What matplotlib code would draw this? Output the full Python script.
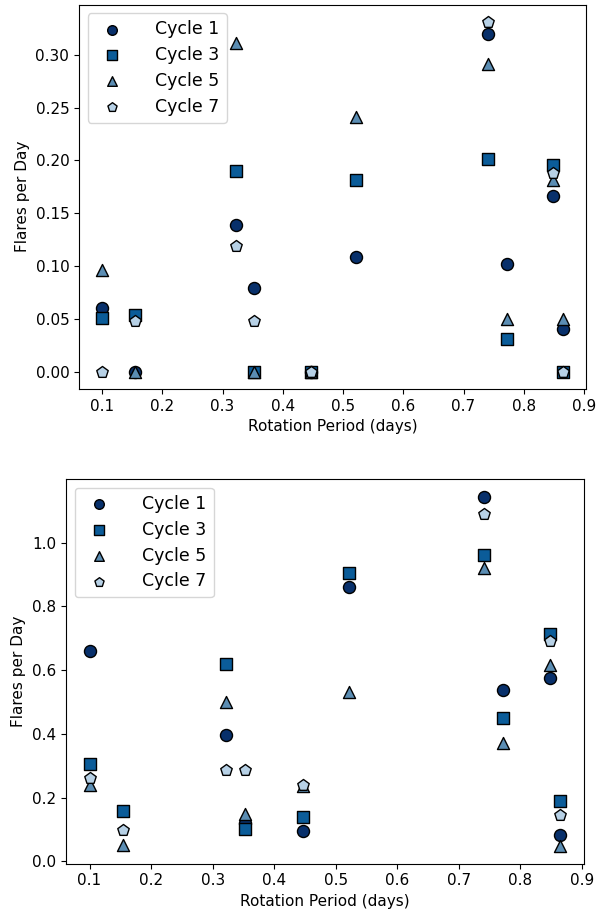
import numpy as np
import matplotlib
matplotlib.use("Agg")
import matplotlib.pyplot as plt

# Rotation periods of the sample (days)
periods = [0.100, 0.154, 0.322, 0.353, 0.447, 0.522, 0.740, 0.772, 0.848, 0.865]

cycles = ["Cycle 1", "Cycle 3", "Cycle 5", "Cycle 7"]

# Flare rates, upper panel (flares per day); NaN = no measurement
top_c1 = [0.060, 0.000, 0.139, 0.079, 0.000, 0.108, 0.320, 0.102, 0.166, 0.040]
top_c3 = [0.051, 0.054, 0.190, 0.000, 0.000, 0.181, 0.201, 0.031, 0.196, 0.000]
top_c5 = [0.096, 0.000, 0.311, 0.000, 0.000, 0.241, 0.291, 0.050, 0.181, 0.050]
top_c7 = [0.000, 0.048, 0.119, 0.048, 0.000, np.nan, 0.331, np.nan, 0.188, 0.000]

# Flare rates, lower panel (flares per day)
bot_c1 = [0.659, np.nan, 0.397, 0.120, 0.094, 0.862, 1.144, 0.538, 0.575, 0.081]
bot_c3 = [0.306, 0.159, 0.619, 0.100, 0.138, 0.906, 0.962, 0.450, 0.713, 0.188]
bot_c5 = [0.238, 0.050, 0.500, 0.147, 0.235, 0.531, 0.922, 0.372, 0.616, 0.047]
bot_c7 = [0.262, 0.097, 0.287, 0.287, 0.238, np.nan, 1.090, np.nan, 0.690, 0.144]

markers = ["o", "s", "^", "p"]
colors = ["#08306b", "#0b5c99", "#5b8db3", "#b7d1e6"]

fig, axes = plt.subplots(2, 1, figsize=(5.99, 9.15), dpi=100)
panels = [(axes[0], [top_c1, top_c3, top_c5, top_c7]),
          (axes[1], [bot_c1, bot_c3, bot_c5, bot_c7])]

for ax, series in panels:
    for label, vals, m, c in zip(cycles, series, markers, colors):
        ax.scatter(periods, vals, marker=m, s=75, color=c,
                   edgecolors="black", linewidths=1.0, label=label, zorder=3)
    ax.set_xlabel("Rotation Period (days)", fontsize=11)
    ax.set_ylabel("Flares per Day", fontsize=11)
    ax.tick_params(labelsize=11)
    ax.legend(loc="upper left", fontsize=12.5, markerscale=0.8,
              handletextpad=1.5, labelspacing=0.45)

axes[0].set_yticks([0.0, 0.05, 0.10, 0.15, 0.20, 0.25, 0.30])
axes[0].set_yticklabels(["0.00", "0.05", "0.10", "0.15", "0.20", "0.25", "0.30"])
axes[1].set_yticks([0.0, 0.2, 0.4, 0.6, 0.8, 1.0])
axes[1].set_xticks([0.1, 0.2, 0.3, 0.4, 0.5, 0.6, 0.7, 0.8, 0.9])
axes[0].set_xticks([0.1, 0.2, 0.3, 0.4, 0.5, 0.6, 0.7, 0.8, 0.9])

fig.subplots_adjust(left=0.11, right=0.978, top=0.995, bottom=0.056, hspace=0.235)
pos0 = axes[0].get_position()
axes[0].set_position([79 / 599, pos0.y0, (586 - 79) / 599, pos0.height])
pos1 = axes[1].get_position()
axes[1].set_position([66 / 599, pos1.y0, (584 - 66) / 599, pos1.height])

fig.savefig("out.png", dpi=100)
